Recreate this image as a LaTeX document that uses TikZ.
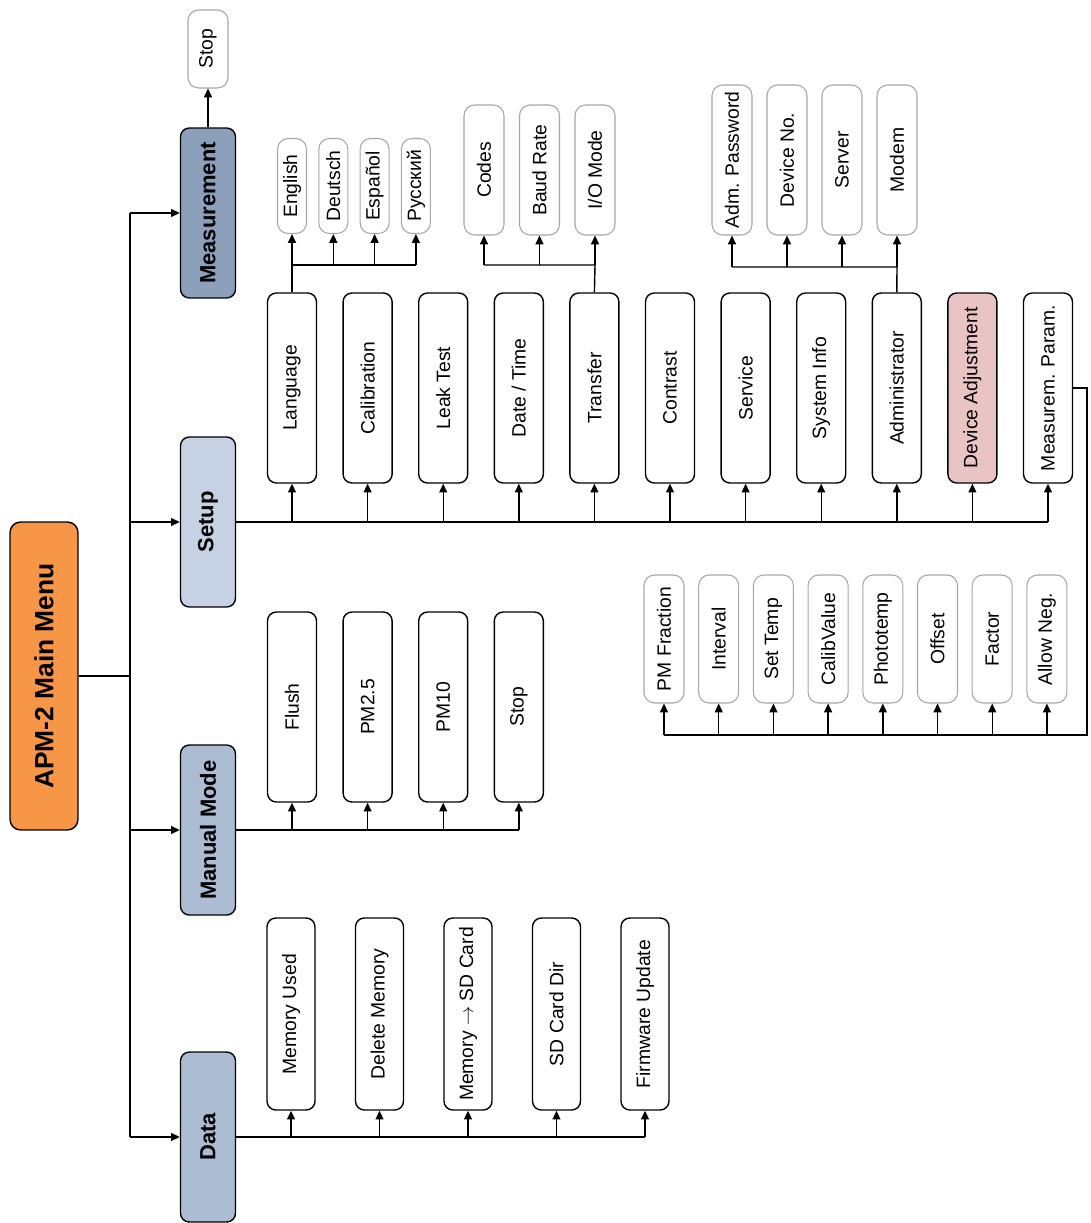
\documentclass[tikz,border=0pt]{standalone}
\usepackage{fontspec}
\setmainfont{Liberation Sans}
\usepackage{graphicx}
\usepackage{tikz}
\usetikzlibrary{arrows.meta}

\definecolor{menuorange}{RGB}{247,150,70}
\definecolor{catdark}{RGB}{140,160,188}
\definecolor{catmid}{RGB}{172,188,210}
\definecolor{catlight}{RGB}{198,210,228}
\definecolor{adjpink}{RGB}{234,196,196}

\newcommand{\vtext}[1]{\rotatebox{90}{#1}}

\tikzset{
  mainbox/.style={draw, rounded corners=6pt, fill=menuorange, inner sep=0pt,
    minimum width=1.36cm, minimum height=6.16cm, font=\fontsize{15}{18}\selectfont\bfseries},
  catbox/.style={draw, rounded corners=5pt, inner sep=0pt,
    minimum width=1.1cm, minimum height=3.4cm, font=\fontsize{12.5}{15}\selectfont\bfseries},
  itembox/.style={draw, rounded corners=5pt, inner sep=0pt,
    minimum width=0.98cm, minimum height=3.8cm, font=\fontsize{11}{13}\selectfont},
  leafbox/.style={draw=gray!70, rounded corners=6pt, fill=white, inner sep=2pt,
    line width=0.6pt, font=\fontsize{11}{13}\selectfont}
}

\begin{document}
\begin{tikzpicture}[x=0.02cm, y=-0.02cm, line width=0.8pt, >={Triangle[length=5pt,width=4.5pt]}]
        \useasboundingbox (0,0) rectangle (1090,1223);
        % Main menu and the four categories
        \node[mainbox] (main) at (44,676) {\vtext{APM-2 Main Menu}};
        \node[catbox, fill=catdark] (meas) at (208,213) {\vtext{Measurement}};
        \node[catbox, fill=catlight] (setup) at (208,522) {\vtext{Setup}};
        \node[catbox, fill=catmid] (manual) at (208,830) {\vtext{Manual Mode}};
        \node[catbox, fill=catmid] (data) at (208,1137) {\vtext{Data}};
        \coordinate (bus) at (130,676);
        \draw (main.east) -- (bus);
        \draw (bus |- meas.west) -- (bus |- data.west);
        \foreach \n in {meas,setup,manual,data} \draw[->] (bus |- \n.west) -- (\n.west);
        % Measurement
        \node[leafbox, minimum width=0.8cm, minimum height=1.56cm] (mstop) at (208,49) {\vtext{Stop}};
        \draw[->] (meas.north) -- (mstop.south);
        % Setup entries
        \foreach \n/\t/\c [count=\i from 0] in {lang/Language/white, cal/Calibration/white,
            leak/Leak Test/white, date/{Date / Time}/white, trans/Transfer/white,
            contr/Contrast/white, serv/Service/white, sysinfo/System Info/white,
            admin/Administrator/white, adjust/Device Adjustment/adjpink, mpar/Measurem. Param./white}
          \node[itembox, fill=\c] (\n) at ({292+75.6*\i},388) {\vtext{\t}};
        \draw (setup.east) -- (setup.east -| mpar.south);
        \foreach \n in {lang,cal,leak,date,trans,contr,serv,sysinfo,admin,adjust,mpar}
          \draw[->] (\n.south |- setup.east) -- (\n.south);
        % Language
        \foreach \n/\t [count=\i from 0] in {en/English, de/Deutsch, es/Español, ru/Русский}
          \node[leafbox, minimum width=0.58cm, minimum height=1.9cm] (\n) at ({292+41.3*\i},186) {\vtext{\t}};
        \coordinate (langbus) at (292,265);
        \draw (lang.north) -- (langbus) -- (langbus -| ru.south);
        \foreach \n in {en,de,es,ru} \draw[->] (\n.south |- langbus) -- (\n.south);
        % Transfer
        \foreach \n/\t [count=\i from 0] in {codes/Codes, baud/Baud Rate, iomode/{I/O Mode}}
          \node[leafbox, minimum width=0.8cm, minimum height=2.6cm] (\n) at ({484+55.5*\i},170) {\vtext{\t}};
        \coordinate (transbus) at (595,265);
        \draw (trans.north) -- (transbus) -- (transbus -| codes.south);
        \foreach \n in {codes,baud,iomode} \draw[->] (\n.south |- transbus) -- (\n.south);
        % Administrator
        \foreach \n/\t [count=\i from 0] in {admpw/Adm. Password, devno/Device No., server/Server, modem/Modem}
          \node[leafbox, minimum width=0.8cm, minimum height=3cm] (\n) at ({732+55*\i},160) {\vtext{\t}};
        \coordinate (adminbus) at (897,267);
        \draw (admin.north) -- (adminbus) -- (adminbus -| admpw.south);
        \foreach \n in {admpw,devno,server,modem} \draw[->] (\n.south |- adminbus) -- (\n.south);
        % Measurement parameters
        \foreach \n/\t [count=\i from 0] in {pmf/PM Fraction, intv/Interval, settemp/Set Temp,
            calval/CalibValue, phtemp/Phototemp, offset/Offset, factor/Factor, allneg/Allow Neg.}
          \node[leafbox, minimum width=0.8cm, minimum height=2.56cm] (\n) at ({664+54.7*\i},639) {\vtext{\t}};
        \coordinate (pmbus) at (1087,735);
        \draw (mpar.east) -- (mpar.east -| pmbus) -- (pmbus) -- (pmbus -| pmf.south);
        \foreach \n in {pmf,intv,settemp,calval,phtemp,offset,factor,allneg}
          \draw[->] (\n.south |- pmbus) -- (\n.south);
        % Manual mode
        \foreach \n/\t [count=\i from 0] in {flush/Flush, pmtwo/PM2.5, pmten/PM10, mmstop/Stop}
          \node[itembox, fill=white] (\n) at ({292+75.6*\i},707) {\vtext{\t}};
        \draw (manual.east) -- (manual.east -| mmstop.south);
        \foreach \n in {flush,pmtwo,pmten,mmstop} \draw[->] (\n.south |- manual.east) -- (\n.south);
        % Data
        \foreach \n/\t [count=\i from 0] in {memused/Memory Used, delmem/Delete Memory,
            memsd/{Memory $\rightarrow$ SD Card}, sddir/SD Card Dir, fwup/Firmware Update}
          \node[itembox, fill=white, minimum width=0.96cm, minimum height=3.84cm] (\n) at ({291+88.5*\i},1014) {\vtext{\t}};
        \draw (data.east) -- (data.east -| fwup.south);
        \foreach \n in {memused,delmem,memsd,sddir,fwup} \draw[->] (\n.south |- data.east) -- (\n.south);
    \end{tikzpicture}
\end{document}
